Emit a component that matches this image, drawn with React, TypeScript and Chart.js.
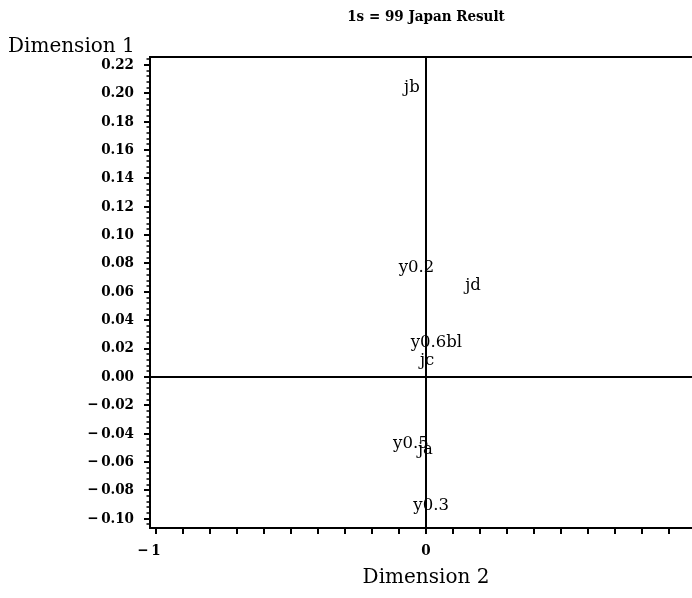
import { useEffect, useRef } from 'react';
import { Chart, registerables } from 'chart.js';

Chart.register(...registerables);

// ---- data ----
const pointLabels = ['jb', 'y0.2', 'jd', 'y0.6', 'bl', 'jc', 'y0.5', 'ja', 'y0.3'];
const dimension2Values = [-0.052, -0.035, 0.174, 0.009, 0.104, 0.004, -0.056, -0.002, 0.019];
const dimension1Values = [0.2038, 0.0769, 0.0642, 0.024, 0.024, 0.0113, -0.0472, -0.0515, -0.091];
const xTickValues = [-1, 0, 1];
const yMajorStep = 0.02;
const yMinorStep = 0.004;
const xStep = 0.1;

const titleText = '1s = 99 Japan Result';
const yTitleText = 'Dimension 1';
const xTitleText = 'Dimension 2';

const TICK_FONT = 'bold 15px "DejaVu Serif Condensed", "DejaVu Serif", serif';
const LABEL_FONT = '16.5px "DejaVu Serif", serif';
const AXIS_TITLE_FONT = '20px "DejaVu Serif", serif';
const TITLE_FONT = 'bold 15px "DejaVu Serif Condensed", "DejaVu Serif", serif';

const fmtY = (v: number) => {
  const a = Math.abs(v).toFixed(2);
  return v < -1e-9 ? '\u2212\u2009' + a : a;
};

const overlayPlugin = {
  id: 'overlay',
  afterDraw(chart: any) {
    const { ctx, chartArea: ca, scales } = chart;
    const xs = scales.x;
    const ys = scales.y;
    ctx.save();
    ctx.strokeStyle = '#000';
    ctx.fillStyle = '#000';
    // top & right frame
    ctx.lineWidth = 2;
    ctx.beginPath();
    ctx.moveTo(ca.left, ca.top);
    ctx.lineTo(ca.right, ca.top);
    ctx.lineTo(ca.right, ca.bottom);
    ctx.stroke();
    // minor y ticks
    ctx.lineWidth = 1.5;
    const start = Math.ceil(ys.min / yMinorStep);
    const end = Math.floor(ys.max / yMinorStep);
    for (let i = start; i <= end; i++) {
      if (i % 5 === 0) continue;
      const py = Math.round(ys.getPixelForValue(i * yMinorStep));
      ctx.beginPath();
      ctx.moveTo(ca.left - 3.5, py);
      ctx.lineTo(ca.left, py);
      ctx.stroke();
    }
    // x tick labels (digits centred on the tick, sign hanging left)
    ctx.font = TICK_FONT;
    ctx.textBaseline = 'middle';
    xTickValues.forEach((v) => {
      const px = xs.getPixelForValue(v);
      const digits = String(Math.abs(v));
      const w = ctx.measureText(digits).width;
      ctx.textAlign = 'left';
      ctx.fillText(digits, px - w / 2, ca.bottom + 23);
      if (v < 0) {
        ctx.textAlign = 'right';
        ctx.fillText('\u2212\u2009', px - w / 2, ca.bottom + 23);
      }
    });
    // point labels
    ctx.font = LABEL_FONT;
    ctx.textAlign = 'center';
    ctx.textBaseline = 'middle';
    pointLabels.forEach((lab, i) => {
      const px = xs.getPixelForValue(dimension2Values[i]);
      const py = ys.getPixelForValue(dimension1Values[i]);
      ctx.fillText(lab, px, py);
    });
    // titles
    const cx = (ca.left + ca.right) / 2;
    ctx.font = TITLE_FONT;
    ctx.textAlign = 'center';
    ctx.fillText(titleText, cx, 17);
    ctx.font = AXIS_TITLE_FONT;
    ctx.fillText(xTitleText, cx, 578);
    ctx.textAlign = 'left';
    ctx.fillText(yTitleText, 8, 47);
    ctx.restore();
  },
};

export default function App() {
  const ref = useRef<HTMLCanvasElement>(null);
  useEffect(() => {
    if (!ref.current) return;
    const chart = new Chart(ref.current, {
      type: 'scatter',
      data: {
        datasets: [
          {
            label: 'points',
            data: dimension2Values.map((x, i) => ({ x, y: dimension1Values[i] })),
            pointRadius: 0,
            pointHoverRadius: 0,
          },
        ],
      },
      options: {
        animation: false,
        responsive: false,
        events: [],
        layout: { padding: { left: 0, top: 57, right: 28, bottom: 0 } },
        plugins: {
          legend: { display: false },
          title: { display: false },
          tooltip: { enabled: false },
        },
        scales: {
          x: {
            type: 'linear',
            min: -1.022,
            max: 1.022,
            afterFit: (s: any) => {
              s.height = 70;
            },
            border: { display: true, color: '#000', width: 2 },
            grid: {
              drawOnChartArea: true,
              color: (c: any) => (c.tick && Math.abs(c.tick.value) < 1e-9 ? '#000' : 'rgba(0,0,0,0)'),
              lineWidth: 2,
              tickColor: '#000',
              tickWidth: 2,
              tickLength: 6,
            },
            ticks: {
              stepSize: xStep,
              includeBounds: false,
              autoSkip: false,
              maxRotation: 0,
              callback: () => '',
            },
          },
          y: {
            type: 'linear',
            min: -0.1065,
            max: 0.2256,
            afterFit: (s: any) => {
              s.width = 150;
            },
            border: { display: true, color: '#000', width: 2 },
            grid: {
              drawOnChartArea: true,
              color: (c: any) => (c.tick && Math.abs(c.tick.value) < 1e-9 ? '#000' : 'rgba(0,0,0,0)'),
              lineWidth: 2,
              tickColor: '#000',
              tickWidth: 2,
              tickLength: 6,
            },
            ticks: {
              stepSize: yMajorStep,
              includeBounds: false,
              autoSkip: false,
              padding: 10,
              color: '#000',
              font: { family: '"DejaVu Serif Condensed", "DejaVu Serif", serif', size: 15, weight: 'bold' },
              callback: (v: any) => fmtY(Number(v)),
            },
          },
        },
      },
      plugins: [overlayPlugin],
    });
    return () => chart.destroy();
  }, []);
  return (
    <div style={{ position: 'fixed', left: 0, top: 0, width: 692, height: 598, overflow: 'hidden', background: '#fff' }}>
      <canvas ref={ref} width={730} height={598} style={{ display: 'block' }} />
    </div>
  );
}
